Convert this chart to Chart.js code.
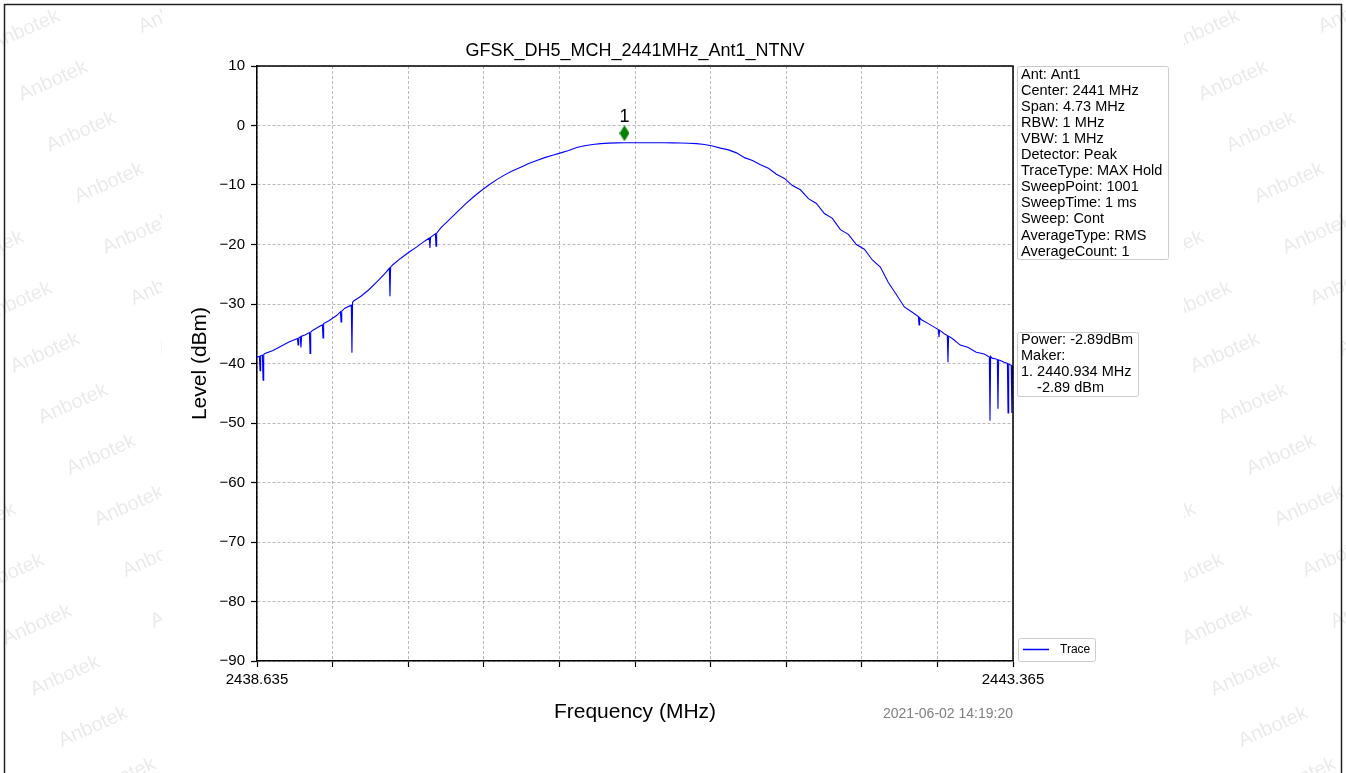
<!DOCTYPE html>
<html>
<head>
<meta charset="utf-8">
<title>GFSK_DH5_MCH_2441MHz_Ant1_NTNV</title>
<script src="https://cdn.jsdelivr.net/npm/chart.js@4.4.0/dist/chart.umd.min.js"></script>
<style>
  html, body { margin: 0; padding: 0; background: #fff; }
  canvas { display: block; }
</style>
</head>
<body>
<canvas id="spectrumChart" width="1346" height="773"></canvas>
<script>
// trace (MHz / dBm)
const freqMHz = [
  2438.635, 2438.650, 2438.654, 2438.658, 2438.669, 2438.673, 2438.677, 2438.685, 2438.735, 2438.785,
  2438.835, 2438.888, 2438.892, 2438.896, 2438.906, 2438.910, 2438.914, 2438.935, 2438.963, 2438.967,
  2438.971, 2438.985, 2439.035, 2439.044, 2439.048, 2439.052, 2439.085, 2439.135, 2439.157, 2439.161,
  2439.165, 2439.185, 2439.225, 2439.229, 2439.233, 2439.240, 2439.285, 2439.335, 2439.385, 2439.435,
  2439.463, 2439.467, 2439.471, 2439.485, 2439.535, 2439.585, 2439.635, 2439.685, 2439.713, 2439.717,
  2439.721, 2439.735, 2439.751, 2439.755, 2439.759, 2439.785, 2439.835, 2439.885, 2439.935, 2439.985,
  2440.035, 2440.085, 2440.135, 2440.185, 2440.235, 2440.285, 2440.335, 2440.385, 2440.435, 2440.485,
  2440.535, 2440.585, 2440.635, 2440.685, 2440.735, 2440.785, 2440.835, 2440.885, 2440.935, 2440.985,
  2441.035, 2441.085, 2441.135, 2441.185, 2441.235, 2441.285, 2441.335, 2441.385, 2441.435, 2441.485,
  2441.535, 2441.585, 2441.635, 2441.685, 2441.735, 2441.785, 2441.835, 2441.885, 2441.935, 2441.985,
  2442.035, 2442.085, 2442.135, 2442.185, 2442.235, 2442.285, 2442.335, 2442.385, 2442.435, 2442.485,
  2442.535, 2442.585, 2442.635, 2442.685, 2442.735, 2442.773, 2442.777, 2442.781, 2442.790, 2442.835,
  2442.885, 2442.898, 2442.902, 2442.906, 2442.935, 2442.954, 2442.958, 2442.962, 2442.985, 2443.035,
  2443.085, 2443.135, 2443.185, 2443.217, 2443.221, 2443.225, 2443.235, 2443.267, 2443.271, 2443.275,
  2443.285, 2443.310, 2443.330, 2443.334, 2443.338, 2443.354, 2443.358, 2443.362, 2443.365
];
const levelDbm = [
  -38.9, -38.8, -41.2, -38.7, -38.6, -42.8, -38.5, -38.3, -37.8, -37.1,
  -36.4, -35.8, -36.9, -35.7, -35.5, -37.3, -35.4, -35.2, -34.8, -38.3,
  -34.7, -34.4, -33.6, -33.5, -35.7, -33.3, -32.8, -31.9, -31.3, -33.0,
  -31.2, -30.7, -30.2, -38.2, -29.7, -29.5, -28.7, -27.6, -26.3, -24.9,
  -24.0, -28.7, -23.8, -23.4, -22.3, -21.3, -20.4, -19.4, -18.9, -20.6,
  -18.8, -18.5, -18.2, -20.3, -18.1, -17.2, -15.9, -14.6, -13.3, -12.1,
  -11.0, -10.0, -9.1, -8.3, -7.6, -7.0, -6.4, -5.9, -5.4, -5.0,
  -4.6, -4.2, -3.7, -3.4, -3.2, -3.05, -2.97, -2.92, -2.89, -2.9,
  -2.9, -2.9, -2.9, -2.91, -2.92, -2.95, -2.98, -3.05, -3.2, -3.45,
  -3.8, -4.1, -4.6, -5.4, -5.9, -6.6, -7.2, -8.2, -8.9, -10.1,
  -10.8, -12.3, -13.1, -14.8, -15.6, -17.5, -18.3, -20.0, -20.8, -22.6,
  -23.8, -26.4, -28.4, -30.5, -31.4, -32.1, -33.5, -32.3, -32.6, -33.3,
  -34.1, -34.3, -35.6, -34.4, -35.0, -35.3, -39.8, -35.4, -35.8, -36.9,
  -37.3, -38.1, -38.4, -38.9, -49.6, -38.8, -39.1, -39.3, -47.6, -39.4,
  -39.5, -39.8, -40.0, -48.3, -40.1, -40.3, -48.3, -40.4, -40.4
];

// marker 1 (drawn a little above the peak, like the original plot)
const markerFreq = [2440.934];
const markerLevel = [-1.3];
const markerLabels = ['1'];

const xTickValues = [2438.635, 2439.108, 2439.581, 2440.054, 2440.527, 2441.000,
                     2441.473, 2441.946, 2442.419, 2442.892, 2443.365];
const yMin = -90;
const yMax = 10;

const chartTitle = 'GFSK_DH5_MCH_2441MHz_Ant1_NTNV';
const xTitle = 'Frequency (MHz)';
const yTitle = 'Level (dBm)';
const timeStamp = '2021-06-02 14:19:20';
const legendLabel = 'Trace';
const infoLines = [
  'Ant: Ant1', 'Center: 2441 MHz', 'Span: 4.73 MHz', 'RBW: 1 MHz', 'VBW: 1 MHz',
  'Detector: Peak', 'TraceType: MAX Hold', 'SweepPoint: 1001', 'SweepTime: 1 ms',
  'Sweep: Cont', 'AverageType: RMS', 'AverageCount: 1'
];
const resultLines = ['Power: -2.89dBm', 'Maker:', '1. 2440.934 MHz', '    -2.89 dBm'];
const watermarkText = 'Anbotek';

const FONT = '"Liberation Sans", Arial, Helvetica, sans-serif';

// thin green diamond, like matplotlib's 'd' marker
function makeDiamond(w, h, color) {
  const c = document.createElement('canvas');
  c.width = w; c.height = h;
  const g = c.getContext('2d');
  g.fillStyle = color;
  g.beginPath();
  g.moveTo(w / 2, 0); g.lineTo(w, h / 2); g.lineTo(w / 2, h); g.lineTo(0, h / 2);
  g.closePath();
  g.fill();
  return c;
}

function drawBox(ctx, x, y, w, h) {
  ctx.save();
  ctx.fillStyle = 'rgba(255,255,255,0.85)';
  ctx.strokeStyle = '#cccccc';
  ctx.lineWidth = 1;
  ctx.beginPath();
  ctx.roundRect(x + 0.5, y + 0.5, w, h, 2);
  ctx.fill();
  ctx.stroke();
  ctx.restore();
}

const decorPlugin = {
  id: 'decor',
  beforeDraw(chart) {
    const ctx = chart.ctx;
    ctx.save();
    ctx.fillStyle = '#fff';
    ctx.fillRect(0, 0, chart.width, chart.height);

    // watermark only shows in the page margins left and right of the figure
    ctx.beginPath();
    ctx.rect(0, 0, 162, chart.height);
    ctx.rect(1184, 0, chart.width - 1184, chart.height);
    ctx.clip();
    ctx.font = '20px ' + FONT;
    ctx.fillStyle = 'rgba(0,0,0,0.085)';
    ctx.textAlign = 'center';
    ctx.textBaseline = 'middle';
    [25, 1205].forEach(x0 => {
      for (let d = -1; d <= 3; d++) {
        for (let j = -1; j <= 6; j++) {
          const cx = x0 + 28 * j - 8 * d;
          const cy = 30 + 272 * d + 51 * j;
          ctx.save();
          ctx.translate(cx, cy);
          ctx.rotate(-24 * Math.PI / 180);
          ctx.fillText(watermarkText, 0, 0);
          ctx.restore();
        }
      }
    });
    ctx.restore();
  },
  afterDraw(chart) {
    const { ctx, chartArea: a, scales } = chart;
    ctx.save();

    // top and right spines
    ctx.strokeStyle = '#000';
    ctx.lineWidth = 1.5;
    ctx.beginPath();
    ctx.moveTo(a.left, a.top); ctx.lineTo(a.right, a.top); ctx.lineTo(a.right, a.bottom);
    ctx.stroke();

    const midX = (a.left + a.right) / 2;
    ctx.fillStyle = '#000';
    ctx.textBaseline = 'middle';

    ctx.textAlign = 'center';
    ctx.font = '18px ' + FONT;
    ctx.fillText(chartTitle, midX, 51);

    ctx.font = '21px ' + FONT;
    ctx.fillText(xTitle, midX, a.bottom + 51);

    ctx.save();
    ctx.translate(a.left - 57, (a.top + a.bottom) / 2);
    ctx.rotate(-Math.PI / 2);
    ctx.fillText(yTitle, 0, 0);
    ctx.restore();

    // marker label
    ctx.font = '18px ' + FONT;
    markerFreq.forEach((f, i) => {
      const px = scales.x.getPixelForValue(f);
      const py = scales.y.getPixelForValue(markerLevel[i]);
      ctx.fillText(markerLabels[i], px, py - 16);
    });

    // time stamp
    ctx.font = '14px ' + FONT;
    ctx.fillStyle = '#808080';
    ctx.textAlign = 'right';
    ctx.fillText(timeStamp, a.right, a.bottom + 53);

    // setting box
    const bx = a.right + 4;
    drawBox(ctx, bx, a.top, 151, 193);
    ctx.fillStyle = '#000';
    ctx.textAlign = 'left';
    ctx.font = '14.5px ' + FONT;
    infoLines.forEach((t, i) => ctx.fillText(t, bx + 4, a.top + 8.5 + i * 16.1));

    // result box
    drawBox(ctx, bx, 332, 121, 64);
    resultLines.forEach((t, i) => ctx.fillText(t, bx + 4, 340 + i * 16));

    // legend
    const ly = a.bottom - 23;
    drawBox(ctx, bx + 1, ly, 77, 23);
    ctx.strokeStyle = '#0000ff';
    ctx.lineWidth = 1.5;
    ctx.beginPath();
    ctx.moveTo(bx + 6, ly + 11.5); ctx.lineTo(bx + 32, ly + 11.5);
    ctx.stroke();
    ctx.font = '12px ' + FONT;
    ctx.fillText(legendLabel, bx + 43, ly + 12);

    // page frame
    ctx.strokeStyle = '#222';
    ctx.lineWidth = 1.5;
    ctx.strokeRect(4.5, 4.5, chart.width - 9, chart.height + 20);
    ctx.restore();
  }
};

const ctxSpec = document.getElementById('spectrumChart');
new Chart(ctxSpec, {
  type: 'line',
  data: {
    datasets: [
      {
        label: legendLabel,
        data: freqMHz.map((f, i) => ({ x: f, y: levelDbm[i] })),
        borderColor: '#0000ff',
        borderWidth: 1.1,
        pointRadius: 0,
        tension: 0,
        fill: false,
        order: 2
      },
      {
        label: 'Marker',
        type: 'scatter',
        data: markerFreq.map((f, i) => ({ x: f, y: markerLevel[i] })),
        pointStyle: makeDiamond(10, 16, '#008000'),
        pointRadius: 8,
        order: 1
      }
    ]
  },
  options: {
    responsive: false,
    animation: false,
    devicePixelRatio: 1,
    layout: { padding: { top: 66, right: 333, bottom: 0, left: 0 } },
    plugins: {
      legend: { display: false },
      title: { display: false },
      tooltip: { enabled: false }
    },
    scales: {
      x: {
        type: 'linear',
        min: xTickValues[0],
        max: xTickValues[xTickValues.length - 1],
        afterBuildTicks: (scale) => { scale.ticks = xTickValues.map(v => ({ value: v })); },
        afterFit: (scale) => { scale.height = 112; },
        ticks: {
          autoSkip: false,
          maxRotation: 0,
          padding: 4,
          color: '#000',
          font: { family: FONT, size: 15 },
          callback: (v, i, ticks) => (i === 0 || i === ticks.length - 1) ? Number(v).toFixed(3) : ''
        },
        grid: {
          color: '#a8a8a8',
          lineWidth: 0.8,
          drawTicks: true,
          tickLength: 6,
          tickColor: '#000',
          tickWidth: 1.2,
          tickBorderDash: []
        },
        border: { display: true, color: '#000', width: 1.5, dash: [3, 2] }
      },
      y: {
        min: yMin,
        max: yMax,
        afterFit: (scale) => { scale.width = 257; },
        ticks: {
          stepSize: 10,
          padding: 6,
          color: '#000',
          font: { family: FONT, size: 15 },
          callback: (v) => v < 0 ? '\u2212' + Math.abs(v) : String(v)
        },
        grid: {
          color: '#a8a8a8',
          lineWidth: 0.8,
          drawTicks: true,
          tickLength: 6,
          tickColor: '#000',
          tickWidth: 1.2,
          tickBorderDash: []
        },
        border: { display: true, color: '#000', width: 1.5, dash: [3, 2] }
      }
    }
  },
  plugins: [decorPlugin]
});
</script>
</body>
</html>
